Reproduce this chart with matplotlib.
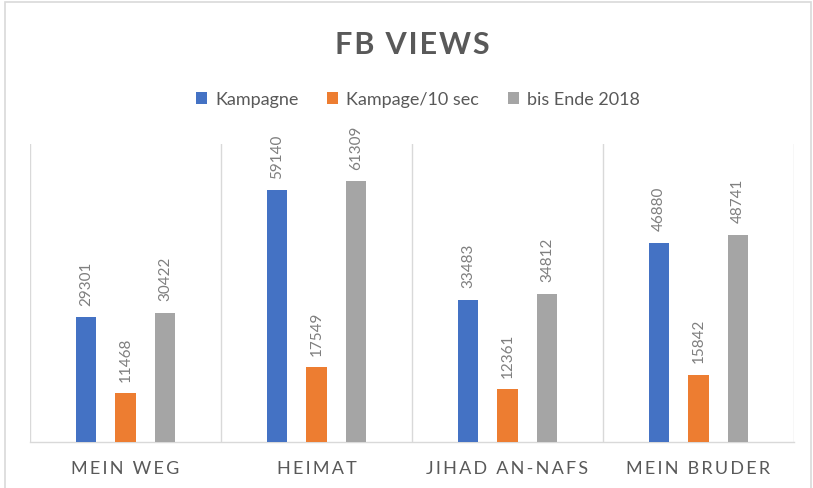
import numpy as np
import matplotlib.pyplot as plt
from matplotlib.patches import Rectangle

categories = ["MEIN WEG", "HEIMAT", "JIHAD AN-NAFS", "MEIN BRUDER"]
series_names = ["Kampagne", "Kampage/10 sec", "bis Ende 2018"]
kampagne = [29301, 59140, 33483, 46880]
kampage_10sec = [11468, 17549, 12361, 15842]
bis_ende_2018 = [30422, 61309, 34812, 48741]

colors = ["#4472C4", "#ED7D31", "#A5A5A5"]
text_color = "#595959"
grid_color = "#D9D9D9"

plt.rcParams["font.family"] = ["Lato", "DejaVu Sans"]

fig = plt.figure(figsize=(8.13, 4.89), dpi=100)
ax = fig.add_axes([0.0369, 0.094, 0.9397, 0.609])

# light frame around the whole chart
fig.patches.append(Rectangle((0.006, -0.01), 0.991, 1.004, transform=fig.transFigure,
                             fill=False, edgecolor=grid_color, lw=1.2))

x = np.arange(len(categories))
width = 0.105
offsets = [-0.207, 0.0, 0.207]
for vals, name, col, off in zip([kampagne, kampage_10sec, bis_ende_2018],
                                series_names, colors, offsets):
    bars = ax.bar(x + off, vals, width, color=col, label=name, zorder=3)
    for b, v in zip(bars, vals):
        ax.annotate(str(v), (b.get_x() + b.get_width() / 2, v),
                    xytext=(0, 9), textcoords="offset points",
                    rotation=90, ha="center", va="bottom",
                    fontsize=11, color="#7F7F7F")

ax.set_xlim(-0.5, len(categories) - 0.5)
ax.set_ylim(0, 70000)

# vertical separators between categories
for b in np.arange(-0.5, len(categories), 1.0):
    ax.axvline(b, color=grid_color, lw=1, zorder=1)

for s in ["top", "right", "left"]:
    ax.spines[s].set_visible(False)
ax.spines["bottom"].set_color(grid_color)
ax.spines["bottom"].set_linewidth(1)

ax.set_yticks([])
ax.set_xticks(x)
ax.set_xticklabels(["\u2009".join(c) for c in categories],
                   fontsize=13, color=text_color)
ax.tick_params(axis="x", length=0, pad=13)

fig.text(0.507, 0.908, "\u200a".join("FB VIEWS"), ha="center", va="center",
         fontsize=22, fontweight="bold", color=text_color)

fig.legend(loc="center", bbox_to_anchor=(0.514, 0.795), ncol=3, frameon=False,
           handlelength=0.6, handleheight=0.6, handletextpad=0.45,
           columnspacing=1.6, fontsize=13, labelcolor=text_color)

fig.savefig("out.png", dpi=100)
